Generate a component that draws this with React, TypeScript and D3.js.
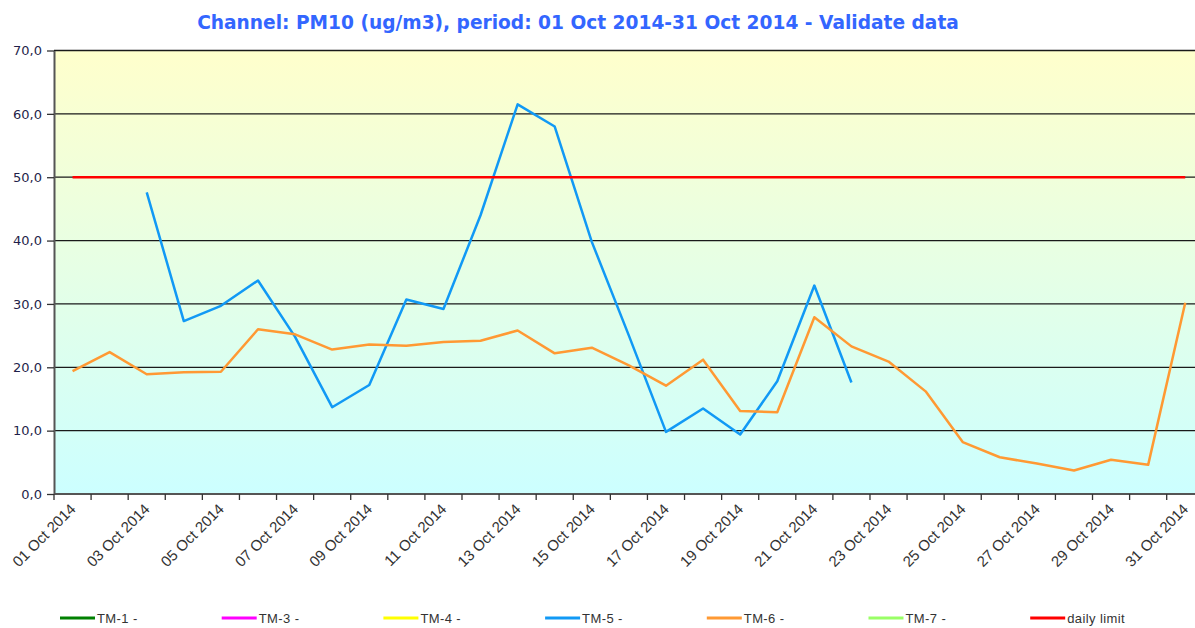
import React, { useEffect, useRef } from 'react';
import * as d3 from 'd3';

// categories: one per day of October 2014
const days = [
  '01 Oct 2014', '02 Oct 2014', '03 Oct 2014', '04 Oct 2014', '05 Oct 2014', '06 Oct 2014',
  '07 Oct 2014', '08 Oct 2014', '09 Oct 2014', '10 Oct 2014', '11 Oct 2014', '12 Oct 2014',
  '13 Oct 2014', '14 Oct 2014', '15 Oct 2014', '16 Oct 2014', '17 Oct 2014', '18 Oct 2014',
  '19 Oct 2014', '20 Oct 2014', '21 Oct 2014', '22 Oct 2014', '23 Oct 2014', '24 Oct 2014',
  '25 Oct 2014', '26 Oct 2014', '27 Oct 2014', '28 Oct 2014', '29 Oct 2014', '30 Oct 2014',
  '31 Oct 2014',
];

// PM10 daily means (ug/m3), null = no data
const tm5 = [
  null, null, 47.6, 27.3, 29.7, 33.7, 24.8, 13.7, 17.2, 30.7, 29.2, 44.0, 61.5, 58.0, 39.8, 25.0,
  9.8, 13.5, 9.4, 17.8, 32.9, 17.6, null, null, null, null, null, null, null, null, null,
];
const tm6 = [
  19.4, 22.4, 18.9, 19.2, 19.3, 26.0, 25.2, 22.8, 23.6, 23.4, 24.0, 24.2, 25.8, 22.2, 23.1, 20.3,
  17.1, 21.2, 13.1, 12.9, 27.9, 23.3, 20.9, 16.2, 8.2, 5.8, 4.8, 3.7, 5.4, 4.6, 30.2,
];
const dailyLimit = days.map(() => 50);

const yTicks = [0, 10, 20, 30, 40, 50, 60, 70];
const labelDays = days.filter((d, i) => i % 2 === 0);

const series = [
  { name: 'TM-1 -', color: '#008000', values: [] as (number | null)[] },
  { name: 'TM-3 -', color: '#FF00FF', values: [] as (number | null)[] },
  { name: 'TM-4 -', color: '#FFFF00', values: [] as (number | null)[] },
  { name: 'TM-5 -', color: '#1199F5', values: tm5 },
  { name: 'TM-6 -', color: '#FF9933', values: tm6 },
  { name: 'TM-7 -', color: '#99FF66', values: [] as (number | null)[] },
  { name: 'daily limit', color: '#FF0000', values: dailyLimit },
];

const App = () => {
  const svgRef = useRef<SVGSVGElement>(null);

  useEffect(() => {
    const width = 1195;
    const height = 628;
    const left = 54;
    const bandW = 37.09;
    const top = 50.5;
    const bottom = 494;

    const svg = d3.select(svgRef.current)
      .attr('width', width)
      .attr('height', height);
    svg.selectAll('*').remove();

    const xScale = d3.scaleBand<string>()
      .domain(days)
      .range([left, left + bandW * days.length])
      .padding(0);

    const yScale = d3.scaleLinear()
      .domain([0, 70])
      .range([bottom, top]);

    // plot background gradient
    const grad = svg.append('defs').append('linearGradient')
      .attr('id', 'bg')
      .attr('x1', 0).attr('y1', 0).attr('x2', 0).attr('y2', 1);
    grad.append('stop').attr('offset', '0%').attr('stop-color', '#FFFFCC');
    grad.append('stop').attr('offset', '100%').attr('stop-color', '#CCFFFF');

    svg.append('rect')
      .attr('x', left)
      .attr('y', top)
      .attr('width', bandW * days.length)
      .attr('height', bottom - top)
      .attr('fill', 'url(#bg)');

    // title
    svg.append('text')
      .attr('x', 578)
      .attr('y', 29)
      .attr('text-anchor', 'middle')
      .style('font-family', '"DejaVu Sans", Verdana, sans-serif')
      .style('font-weight', 'bold')
      .style('font-size', '18.6px')
      .attr('fill', '#3366FF')
      .text('Channel: PM10 (ug/m3), period: 01 Oct 2014-31 Oct 2014 - Validate data');

    // gridlines
    svg.append('g')
      .selectAll('line')
      .data(yTicks.filter(t => t > 0))
      .enter().append('line')
      .attr('x1', left)
      .attr('x2', left + bandW * days.length)
      .attr('y1', d => yScale(d))
      .attr('y2', d => yScale(d))
      .attr('stroke', '#1a1a1a')
      .attr('stroke-width', 1.3);

    // y axis
    const yAxis = svg.append('g')
      .attr('transform', `translate(${left},0)`)
      .call(d3.axisLeft(yScale).tickValues(yTicks).tickSize(7).tickSizeOuter(0)
        .tickFormat(d => (d as number).toFixed(1).replace('.', ',')));
    yAxis.select('.domain').attr('stroke', '#555').attr('stroke-width', 2);
    yAxis.selectAll('.tick line').attr('stroke', '#333').attr('stroke-width', 1.3);
    yAxis.selectAll('.tick text')
      .attr('x', -12)
      .attr('fill', '#1f1f4a')
      .style('font-family', '"DejaVu Sans", Verdana, sans-serif')
      .style('font-size', '13px');

    // x axis: ticks at band boundaries
    const xAxis = svg.append('g');
    xAxis.append('line')
      .attr('x1', left).attr('x2', left + bandW * days.length)
      .attr('y1', bottom).attr('y2', bottom)
      .attr('stroke', '#555').attr('stroke-width', 2);
    xAxis.selectAll('.xtick')
      .data(days)
      .enter().append('line')
      .attr('class', 'xtick')
      .attr('x1', d => xScale(d)!)
      .attr('x2', d => xScale(d)!)
      .attr('y1', bottom)
      .attr('y2', bottom + 6)
      .attr('stroke', '#333')
      .attr('stroke-width', 1.3);
    xAxis.selectAll('.xlabel')
      .data(labelDays)
      .enter().append('text')
      .attr('class', 'xlabel')
      .attr('text-anchor', 'end')
      .attr('transform', d => `translate(${xScale(d)! + bandW / 2 + 4},${bottom + 16}) rotate(-45)`)
      .attr('fill', '#333')
      .style('font-family', '"Liberation Sans", Arial, sans-serif')
      .style('font-size', '15px')
      .text(d => d);

    // lines
    const line = d3.line<number | null>()
      .defined(d => d !== null)
      .x((d, i) => xScale(days[i])! + bandW / 2)
      .y(d => yScale(d as number));

    series.filter(s => s.values.length).forEach(s => {
      svg.append('path')
        .datum(s.values)
        .attr('fill', 'none')
        .attr('stroke', s.color)
        .attr('stroke-width', 2.5)
        .attr('stroke-linejoin', 'round')
        .attr('d', line);
    });

    // legend
    const legend = svg.append('g')
      .attr('transform', 'translate(60,618)');
    const item = legend.selectAll('g')
      .data(series)
      .enter().append('g')
      .attr('transform', (d, i) => `translate(${i * 161.7},0)`);
    item.append('line')
      .attr('x1', 0).attr('x2', 35)
      .attr('stroke', d => d.color)
      .attr('stroke-width', 3);
    item.append('text')
      .attr('x', 37)
      .attr('y', 5)
      .attr('fill', '#333')
      .style('font-family', '"Liberation Sans", Arial, sans-serif')
      .style('font-size', '13px')
      .style('letter-spacing', '0.4px')
      .text(d => d.name);
  }, []);

  return (
    <svg ref={svgRef} style={{ position: 'absolute', left: 0, top: 0, background: '#fff' }}></svg>
  );
};

export default App;
